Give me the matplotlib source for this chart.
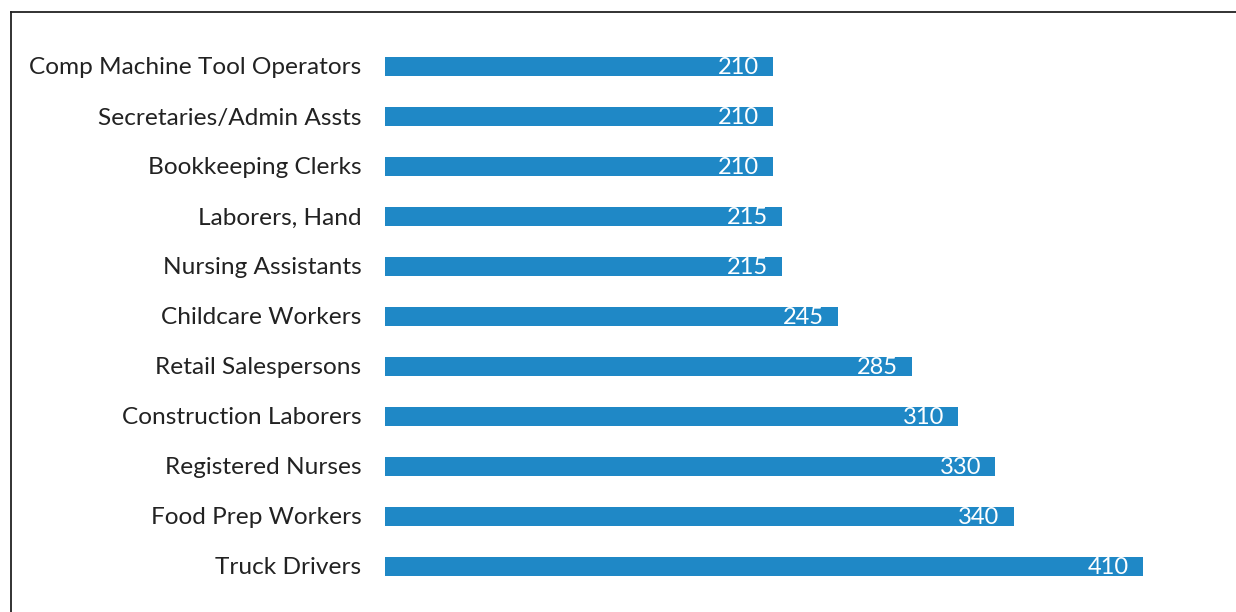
import matplotlib
matplotlib.use("Agg")
import matplotlib.pyplot as plt
from matplotlib.lines import Line2D

# occupations, top to bottom as shown
occupations = [
    "Comp Machine Tool Operators",
    "Secretaries/Admin Assts",
    "Bookkeeping Clerks",
    "Laborers, Hand",
    "Nursing Assistants",
    "Childcare Workers",
    "Retail Salespersons",
    "Construction Laborers",
    "Registered Nurses",
    "Food Prep Workers",
    "Truck Drivers",
]
openings = [210, 210, 210, 215, 215, 245, 285, 310, 330, 340, 410]

plt.rcParams['font.family'] = ['Lato', 'DejaVu Sans']

W, H = 1236, 612
fig = plt.figure(figsize=(W / 100, H / 100), dpi=100)
ax = fig.add_axes([385 / W, 1 - 591 / H, (1228 - 385) / W, (591 - 41) / H])

ypos = list(range(len(occupations)))
bars = ax.barh(ypos, openings, height=0.38, color='#1f88c6')

# value labels inside the bar ends
for b, v in zip(bars, openings):
    ax.annotate(str(v), (b.get_width(), b.get_y() + b.get_height() / 2),
                xytext=(-14, -2), textcoords='offset pixels',
                ha='right', va='center', color='white', fontsize=17)

ax.set_xlim(0, 456)
ax.set_ylim(len(occupations) - 0.5, -0.5)
ax.set_yticks(ypos)
ax.set_yticklabels(occupations, fontsize=17.6, color='#222222')
ax.tick_params(axis='y', length=0, pad=17)
ax.set_xticks([])
for s in ax.spines.values():
    s.set_visible(False)

# frame around the chart: only top and left edges show
fig.add_artist(Line2D([11 / W, 1], [1 - 12 / H, 1 - 12 / H], color='#222222', lw=1.3))
fig.add_artist(Line2D([11 / W, 11 / W], [0, 1 - 12 / H], color='#222222', lw=1.3))

fig.savefig("out.png", dpi=100)
